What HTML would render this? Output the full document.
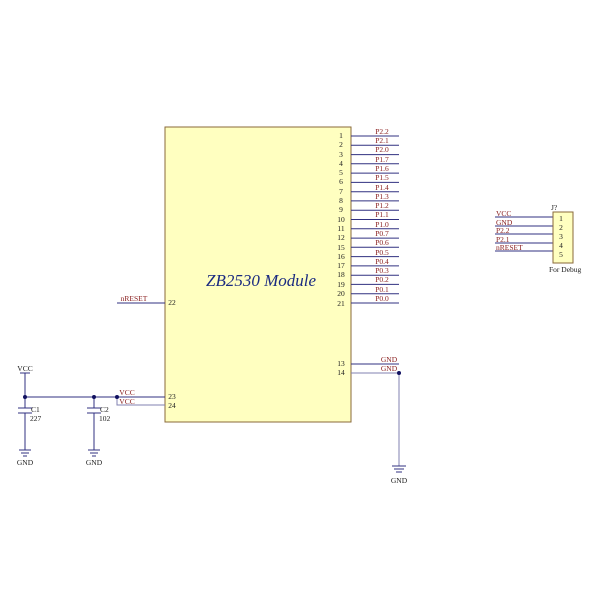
<!DOCTYPE html>
<html><head><style>body{margin:0;background:#fff}</style></head><body>
<svg width="600" height="600" xmlns="http://www.w3.org/2000/svg" font-family="Liberation Serif, serif">
<rect x="165" y="127" width="186" height="295" fill="#ffffc0" stroke="#8a6a3a" stroke-width="1"/>
<text x="261" y="286" font-size="17" font-style="italic" fill="#1a2a80" text-anchor="middle">ZB2530 Module</text>
<g stroke="#303080" stroke-width="1">
<line x1="351" y1="136" x2="399" y2="136"/><line x1="351" y1="145.3" x2="399" y2="145.3"/><line x1="351" y1="154.6" x2="399" y2="154.6"/><line x1="351" y1="163.8" x2="399" y2="163.8"/><line x1="351" y1="173.1" x2="399" y2="173.1"/><line x1="351" y1="182.4" x2="399" y2="182.4"/><line x1="351" y1="191.7" x2="399" y2="191.7"/><line x1="351" y1="200.9" x2="399" y2="200.9"/><line x1="351" y1="210.2" x2="399" y2="210.2"/><line x1="351" y1="219.5" x2="399" y2="219.5"/><line x1="351" y1="228.8" x2="399" y2="228.8"/><line x1="351" y1="238.1" x2="399" y2="238.1"/><line x1="351" y1="247.3" x2="399" y2="247.3"/><line x1="351" y1="256.6" x2="399" y2="256.6"/><line x1="351" y1="265.9" x2="399" y2="265.9"/><line x1="351" y1="275.2" x2="399" y2="275.2"/><line x1="351" y1="284.4" x2="399" y2="284.4"/><line x1="351" y1="293.7" x2="399" y2="293.7"/><line x1="351" y1="303" x2="399" y2="303"/>
<line x1="117" y1="303" x2="165" y2="303"/>
<line x1="25" y1="397" x2="165" y2="397"/>
<polyline points="117,397 117,405 165,405" fill="none" stroke="#8080b0"/>
<line x1="25" y1="373" x2="25" y2="408"/><line x1="25" y1="413" x2="25" y2="450"/>
<line x1="94" y1="397" x2="94" y2="408"/><line x1="94" y1="413" x2="94" y2="450"/>
<line x1="18" y1="408" x2="32" y2="408"/><line x1="18" y1="413" x2="32" y2="413"/>
<line x1="87" y1="408" x2="101" y2="408"/><line x1="87" y1="413" x2="101" y2="413"/>
<line x1="19" y1="450" x2="31" y2="450"/><line x1="21" y1="453" x2="29" y2="453"/><line x1="23" y1="456" x2="27" y2="456"/>
<line x1="88" y1="450" x2="100" y2="450"/><line x1="90" y1="453" x2="98" y2="453"/><line x1="92" y1="456" x2="96" y2="456"/>
<line x1="20" y1="373" x2="30" y2="373"/>
<line x1="351" y1="364" x2="399" y2="364"/>
<line x1="351" y1="373" x2="399" y2="373" stroke="#8080b0"/>
<line x1="399" y1="373" x2="399" y2="466" stroke="#8080b0"/>
<line x1="392" y1="466" x2="406" y2="466"/><line x1="394" y1="469" x2="404" y2="469"/><line x1="396" y1="472" x2="402" y2="472"/>
<line x1="495" y1="217" x2="553" y2="217"/><line x1="495" y1="226" x2="553" y2="226"/><line x1="495" y1="234" x2="553" y2="234"/><line x1="495" y1="243" x2="553" y2="243"/><line x1="495" y1="251" x2="553" y2="251"/>
</g>
<g fill="#101060"><circle cx="25" cy="397" r="2"/><circle cx="94" cy="397" r="2"/><circle cx="117" cy="397" r="2"/><circle cx="399" cy="373" r="2"/></g>
<rect x="553" y="212" width="20" height="51" fill="#ffffc0" stroke="#8a6a3a"/>
<g font-size="7.5" fill="#202020" text-anchor="middle">
<text x="341" y="138">1</text><text x="341" y="147">2</text><text x="341" y="157">3</text><text x="341" y="166">4</text><text x="341" y="175">5</text><text x="341" y="184">6</text><text x="341" y="194">7</text><text x="341" y="203">8</text><text x="341" y="212">9</text><text x="341" y="222">10</text><text x="341" y="231">11</text><text x="341" y="240">12</text><text x="341" y="250">15</text><text x="341" y="259">16</text><text x="341" y="268">17</text><text x="341" y="277">18</text><text x="341" y="287">19</text><text x="341" y="296">20</text><text x="341" y="306">21</text>
<text x="172" y="305">22</text><text x="172" y="399">23</text><text x="172" y="408">24</text>
<text x="341" y="366">13</text><text x="341" y="375">14</text>
<text x="561" y="221">1</text><text x="561" y="230">2</text><text x="561" y="239">3</text><text x="561" y="248">4</text><text x="561" y="257">5</text>
</g>
<g font-size="7.5" fill="#8a2020" text-anchor="middle">
<text x="382" y="134">P2.2</text><text x="382" y="143">P2.1</text><text x="382" y="152">P2.0</text><text x="382" y="162">P1.7</text><text x="382" y="171">P1.6</text><text x="382" y="180">P1.5</text><text x="382" y="190">P1.4</text><text x="382" y="199">P1.3</text><text x="382" y="208">P1.2</text><text x="382" y="217">P1.1</text><text x="382" y="227">P1.0</text><text x="382" y="236">P0.7</text><text x="382" y="245">P0.6</text><text x="382" y="255">P0.5</text><text x="382" y="264">P0.4</text><text x="382" y="273">P0.3</text><text x="382" y="282">P0.2</text><text x="382" y="292">P0.1</text><text x="382" y="301">P0.0</text>
<text x="134" y="301">nRESET</text>
<text x="127" y="395">VCC</text><text x="127" y="404">VCC</text>
<text x="389" y="362">GND</text><text x="389" y="371">GND</text>
</g>
<g font-size="7.5" fill="#8a2020">
<text x="496" y="216">VCC</text><text x="496" y="225">GND</text><text x="496" y="233">P2.2</text><text x="496" y="242">P2.1</text><text x="496" y="250">nRESET</text>
</g>
<g font-size="7.5" fill="#202020">
<text x="551" y="210">J?</text><text x="549" y="272">For Debug</text>
<text x="31" y="412">C1</text><text x="30" y="421">227</text>
<text x="100" y="412">C2</text><text x="99" y="421">102</text>
<text x="25" y="371" text-anchor="middle">VCC</text>
<text x="25" y="465" text-anchor="middle">GND</text><text x="94" y="465" text-anchor="middle">GND</text>
<text x="399" y="483" text-anchor="middle">GND</text>
</g>
</svg>
</body></html>
